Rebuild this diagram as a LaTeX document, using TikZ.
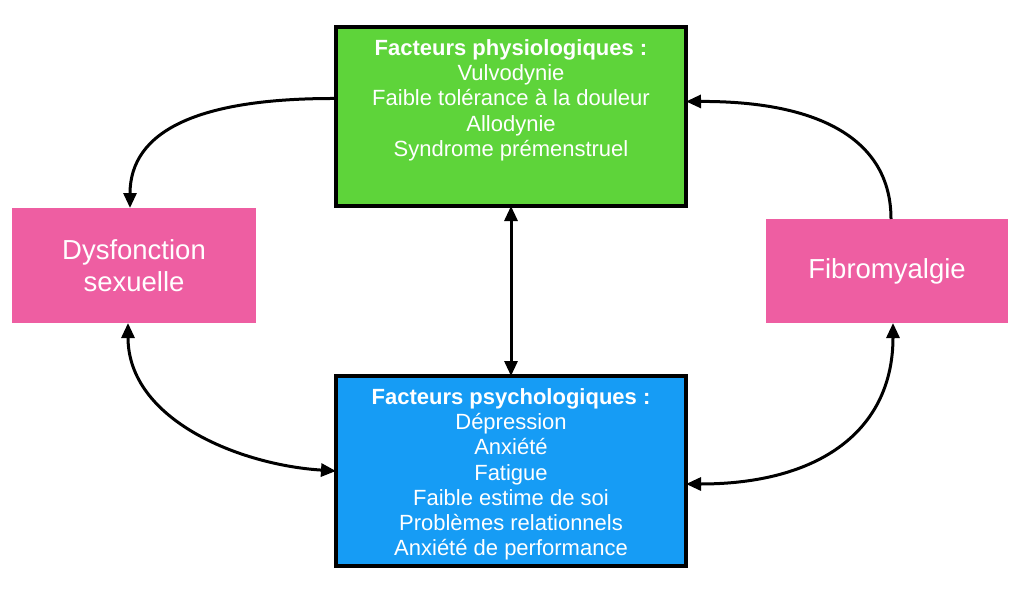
\documentclass[tikz,border=0pt]{standalone}
\usepackage{fontspec}
\setmainfont{Liberation Sans}
\usetikzlibrary{arrows.meta}
\definecolor{physgreen}{RGB}{94,212,58}
\definecolor{psyblue}{RGB}{22,156,245}
\definecolor{pinkbox}{RGB}{238,94,162}
\tikzset{
  bigbox/.style={draw=black, line width=3.5pt, minimum width=350pt, inner sep=0pt, outer sep=0pt},
  pinkrect/.style={fill=pinkbox, inner sep=0pt, outer sep=0pt, text=white, align=center, font=\fontsize{27.5}{32}\selectfont},
  boxtext/.style={text=white, align=center, inner sep=0pt, font=\fontsize{22}{25.3}\selectfont},
  tip/.tip={Triangle[length=15pt,width=13pt]},
  conn/.style={line width=3pt, -tip},
  conn2/.style={line width=3pt, tip-tip}
}
\begin{document}
\begin{tikzpicture}[x=1pt,y=-1pt]
\useasboundingbox (0,0) rectangle (1024,602);
\fill[white] (0,0) rectangle (1024,602);
% boxes
\node[bigbox, fill=physgreen, minimum height=179pt] (phys) at (511,116.5) {};
\node[bigbox, fill=psyblue, minimum height=190pt] (psy) at (511,471) {};
\node[pinkrect, minimum width=244pt, minimum height=115pt] (sex) at (134,265.5) {Dysfonction\\sexuelle};
\node[pinkrect, minimum width=242pt, minimum height=104pt] (fib) at (887,271) {Fibromyalgie};
% texts
\node[boxtext, anchor=north] (phystxt) at (511,39) {\textbf{Facteurs physiologiques :}\\Vulvodynie\\Faible tolérance à la douleur\\Allodynie\\Syndrome prémenstruel};
\node[boxtext, anchor=north] (psytxt) at (511,388) {\textbf{Facteurs psychologiques :}\\Dépression\\Anxiété\\Fatigue\\Faible estime de soi\\Problèmes relationnels\\Anxiété de performance};
% connectors
\draw[conn] ([yshift=18pt]phys.west) .. controls (200,98) and (130,130) .. ([xshift=-4pt]sex.north);
\draw[conn] ([xshift=4pt]fib.north) .. controls (891,140) and (820,101) .. ([yshift=15pt]phys.east);
\draw[conn2] (phys.south) -- (psy.north);
\draw[conn2] ([xshift=-6pt]sex.south) .. controls (128,420) and (240,465) .. (psy.west);
\draw[conn2] ([xshift=6pt]fib.south) .. controls (893,430) and (820,484) .. ([yshift=-13pt]psy.east);
\end{tikzpicture}
\end{document}
